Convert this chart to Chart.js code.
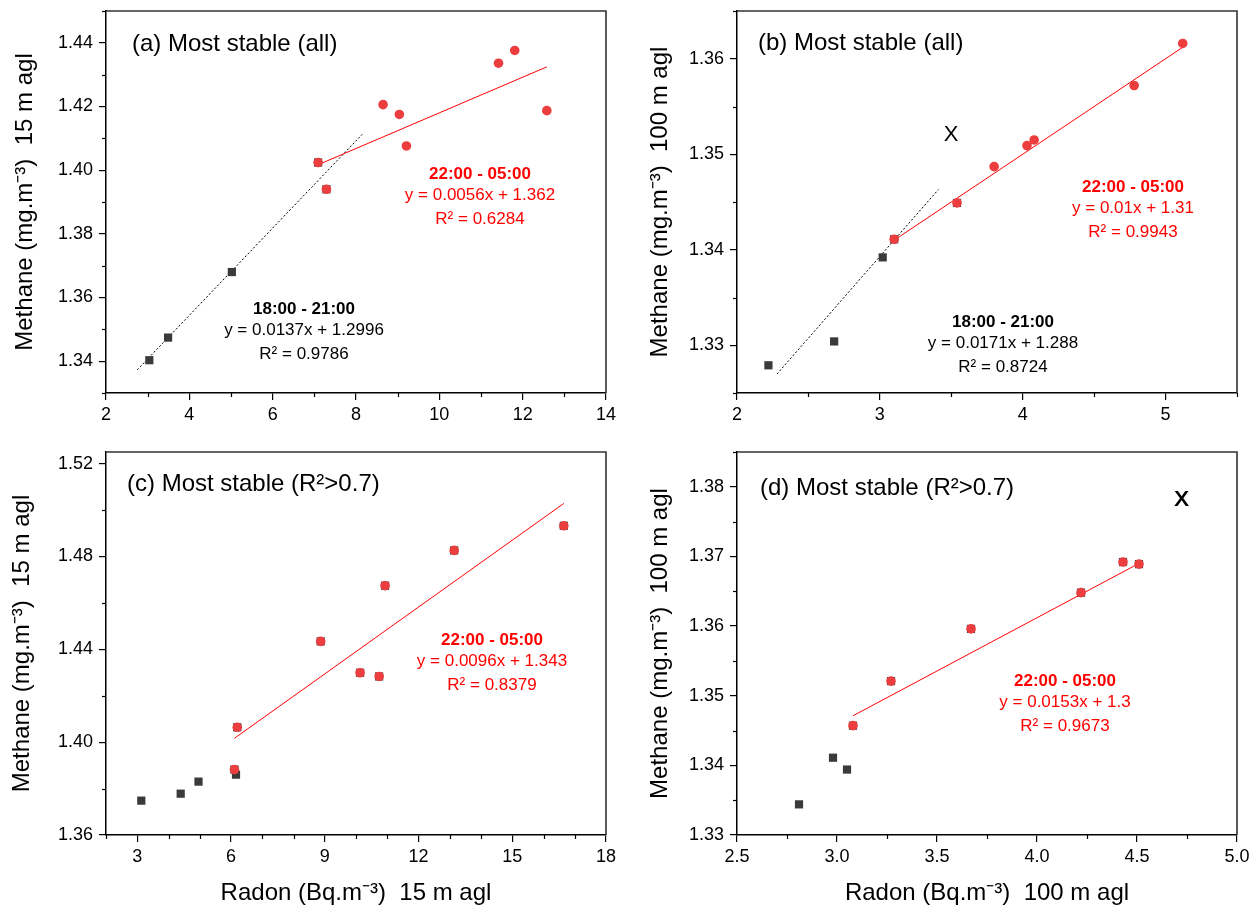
<!DOCTYPE html>
<html lang="en">
<head>
<meta charset="UTF-8">
<title>Methane vs Radon - most stable nights</title>
<script src="https://cdn.jsdelivr.net/npm/chart.js@4.4.0/dist/chart.umd.min.js"></script>
<style>
  html, body { margin: 0; padding: 0; background: #fff; }
  #page { position: relative; width: 1253px; height: 905px; overflow: hidden; }
  #page canvas { position: absolute; }
</style>
</head>
<body>
<div id="page">
  <canvas id="chartA" width="626" height="440" style="left:0;top:0"></canvas>
  <canvas id="chartB" width="627" height="440" style="left:626px;top:0"></canvas>
  <canvas id="chartC" width="626" height="465" style="left:0;top:440px"></canvas>
  <canvas id="chartD" width="627" height="465" style="left:626px;top:440px"></canvas>
</div>
<script>
// ---- (a) 15 m, all nights ----
const aEveX = [3.04, 3.49, 5.02, 7.09, 7.29];
const aEveY = [1.3403, 1.3474, 1.3680, 1.4024, 1.3940];
const aNightX = [7.09, 7.29, 8.65, 9.04, 9.21, 11.42, 11.81, 12.58];
const aNightY = [1.4024, 1.3940, 1.4206, 1.4175, 1.4076, 1.4336, 1.4376, 1.4187];
const aEveFit = { slope: 0.0137, intercept: 1.2996, r2: 0.9786, from: 2.75, to: 8.15 };
const aNightFit = { slope: 0.0056, intercept: 1.362, r2: 0.6284, from: 7.09, to: 12.58 };
const aXTicks = [2, 4, 6, 8, 10, 12, 14];
const aYTicks = [1.34, 1.36, 1.38, 1.40, 1.42, 1.44];

// ---- (b) 100 m, all nights ----
const bEveX = [2.22, 2.68, 3.02, 3.10, 3.54];
const bEveY = [1.3279, 1.3304, 1.3392, 1.3411, 1.3449];
const bNightX = [3.10, 3.54, 3.80, 4.03, 4.08, 4.78, 5.12];
const bNightY = [1.3411, 1.3449, 1.3487, 1.3509, 1.3515, 1.3572, 1.3616];
const bEveFit = { slope: 0.0171, intercept: 1.288, r2: 0.8724, from: 2.28, to: 3.41 };
const bNightFit = { slope: 0.01, intercept: 1.31, r2: 0.9943, from: 3.10, to: 5.12 };
const bXTicks = [2, 3, 4, 5];
const bYTicks = [1.33, 1.34, 1.35, 1.36];

// ---- (c) 15 m, nights with R2 > 0.7 ----
const cEveX = [3.13, 4.39, 4.96, 6.16, 6.11, 6.20, 8.87, 10.13, 10.74, 10.93, 13.14, 16.65];
const cEveY = [1.3748, 1.3778, 1.3830, 1.3860, 1.3882, 1.4064, 1.4434, 1.4299, 1.4283, 1.4674, 1.4826, 1.4932];
const cNightX = [6.11, 6.20, 8.87, 10.13, 10.74, 10.93, 13.14, 16.65];
const cNightY = [1.3882, 1.4064, 1.4434, 1.4299, 1.4283, 1.4674, 1.4826, 1.4932];
const cNightFit = { slope: 0.0096, intercept: 1.343, r2: 0.8379, from: 6.11, to: 16.65 };
const cXTicks = [3, 6, 9, 12, 15, 18];
const cYTicks = [1.36, 1.40, 1.44, 1.48, 1.52];

// ---- (d) 100 m, nights with R2 > 0.7 ----
const dEveX = [2.81, 2.98, 3.05, 3.08, 3.27, 3.67, 4.22, 4.43, 4.51];
const dEveY = [1.3344, 1.3411, 1.3394, 1.3457, 1.3521, 1.3596, 1.3648, 1.3692, 1.3689];
const dNightX = [3.08, 3.27, 3.67, 4.22, 4.43, 4.51];
const dNightY = [1.3457, 1.3521, 1.3596, 1.3648, 1.3692, 1.3689];
const dNightFit = { slope: 0.0153, intercept: 1.3, r2: 0.9673, from: 3.08, to: 4.50 };
const dXTicks = [2.5, 3.0, 3.5, 4.0, 4.5, 5.0];
const dYTicks = [1.33, 1.34, 1.35, 1.36, 1.37, 1.38];

const RED = '#ff0000';
const RED_DOT = '#ec3e3e';
const DARK = '#3a3a3a';
const FONT = '"Liberation Sans", Arial, Helvetica, sans-serif';
Chart.defaults.font.family = FONT;
Chart.defaults.color = '#000';

function pairs(xs, ys) {
  return xs.map((x, i) => ({ x, y: ys[i] }));
}

function fitPoints(fit) {
  return [fit.from, fit.to].map(x => ({ x, y: fit.slope * x + fit.intercept }));
}

function eqText(fit) {
  return 'y = ' + fit.slope + 'x + ' + fit.intercept;
}

function r2Text(fit) {
  return 'R\u00B2 = ' + fit.r2;
}

// the plot box is fixed by layout.padding alone, so drop the label overhang
function noOverhang(s) {
  s.paddingTop = 0;
  s.paddingBottom = 0;
  s.paddingLeft = 0;
  s.paddingRight = 0;
}

// minor ticks and the top/right frame lines
const framePlugin = {
  id: 'frame',
  afterDraw(chart, args, opts) {
    const { ctx, chartArea: a, scales } = chart;
    ctx.save();
    ctx.strokeStyle = '#000';
    ctx.lineWidth = 1.2;
    const drawMinor = (scale, step, majors, horizontal) => {
      const n = Math.round((scale.max - scale.min) / step);
      for (let i = 0; i <= n; i++) {
        const v = scale.min + i * step;
        if (majors.some(m => Math.abs(m - v) < step / 10)) continue;
        const p = Math.round(scale.getPixelForValue(v)) + 0.5;
        ctx.beginPath();
        if (horizontal) {
          ctx.moveTo(p, a.bottom);
          ctx.lineTo(p, a.bottom + 4);
        } else {
          ctx.moveTo(a.left - 4, p);
          ctx.lineTo(a.left, p);
        }
        ctx.stroke();
      }
    };
    drawMinor(scales.x, opts.xMinor, opts.xTicks, true);
    drawMinor(scales.y, opts.yMinor, opts.yTicks, false);

    ctx.strokeStyle = '#333';
    ctx.lineWidth = 1.6;
    ctx.beginPath();
    ctx.moveTo(a.left, a.top);
    ctx.lineTo(a.right, a.top);
    ctx.lineTo(a.right, a.bottom);
    ctx.stroke();
    ctx.restore();
  }
};

// text notes placed relative to the plot area
const notesPlugin = {
  id: 'notes',
  afterDraw(chart, args, opts) {
    const { ctx, chartArea: a } = chart;
    ctx.save();
    ctx.textBaseline = 'middle';
    (opts.items || []).forEach(n => {
      ctx.font = (n.bold ? 'bold ' : '') + (n.size || 17) + 'px ' + FONT;
      ctx.fillStyle = n.color || '#000';
      ctx.textAlign = n.align || 'center';
      ctx.fillText(n.text, a.left + n.dx, a.top + n.dy);
    });
    ctx.restore();
  }
};

function fitNotes(label, fit, dx, dy, color) {
  return [
    { text: label, dx, dy, color, bold: true },
    { text: eqText(fit), dx, dy: dy + 21, color },
    { text: r2Text(fit), dx, dy: dy + 45, color }
  ];
}

function buildChart(id, p) {
  const datasets = [
    {
      data: pairs(p.nightX, p.nightY), order: 1,
      pointStyle: 'circle', pointRadius: 4.8, pointHoverRadius: 4.8,
      backgroundColor: RED_DOT, borderColor: RED_DOT, borderWidth: 0
    },
    {
      data: fitPoints(p.nightFit), order: 2, showLine: true,
      borderColor: RED, borderWidth: 1, pointRadius: 0
    },
    {
      data: pairs(p.eveX, p.eveY), order: 3,
      pointStyle: 'rect', pointRadius: 5.8, pointHoverRadius: 5.8,
      backgroundColor: DARK, borderColor: DARK, borderWidth: 0
    }
  ];
  if (p.eveFit) {
    datasets.push({
      data: fitPoints(p.eveFit), order: 4, showLine: true,
      borderColor: '#000', borderWidth: 1, borderDash: [2, 2], pointRadius: 0
    });
  }

  const tickFont = { size: 18, family: FONT };
  const titleFont = { size: 24, family: FONT, lineHeight: 1 };

  return new Chart(document.getElementById(id), {
    type: 'scatter',
    data: { datasets },
    options: {
      responsive: false,
      animation: false,
      events: [],
      layout: { padding: { top: p.padTop, right: p.padRight, left: 0, bottom: 0 } },
      plugins: {
        legend: { display: false },
        tooltip: { enabled: false },
        frame: { xMinor: p.xMinor, yMinor: p.yMinor, xTicks: p.xTicks, yTicks: p.yTicks },
        notes: { items: p.notes }
      },
      scales: {
        x: {
          type: 'linear', min: p.xMin, max: p.xMax,
          afterBuildTicks: s => { s.ticks = p.xTicks.map(v => ({ value: v })); },
          afterFit: s => { s.height = p.xHeight; noOverhang(s); },
          ticks: {
            autoSkip: false, maxRotation: 0, padding: 4, font: tickFont, color: '#000',
            callback: v => v.toFixed(p.xDec)
          },
          grid: { drawOnChartArea: false, tickLength: 7, color: '#000', lineWidth: 1.2 },
          border: { color: '#000', width: 1.5 },
          title: {
            display: !!p.xTitle, text: p.xTitle, font: titleFont, color: '#000',
            padding: { top: 0, bottom: 0 }
          }
        },
        y: {
          type: 'linear', min: p.yMin, max: p.yMax,
          afterBuildTicks: s => { s.ticks = p.yTicks.map(v => ({ value: v })); },
          afterFit: s => { s.width = p.yWidth; noOverhang(s); },
          ticks: {
            autoSkip: false, padding: 6, font: tickFont, color: '#000',
            callback: v => v.toFixed(2)
          },
          grid: { drawOnChartArea: false, tickLength: 7, color: '#000', lineWidth: 1.2 },
          border: { color: '#000', width: 1.5 },
          title: {
            display: true, text: p.yTitle, font: titleFont, color: '#000',
            padding: { top: p.yTitlePad, bottom: 0 }
          }
        }
      }
    },
    plugins: [framePlugin, notesPlugin]
  });
}

const Y15 = 'Methane (mg.m\u207B\u00B3)  15 m agl';
const Y100 = 'Methane (mg.m\u207B\u00B3)  100 m agl';
const EVE = '18:00 - 21:00';
const NIGHT = '22:00 - 05:00';

buildChart('chartA', {
  eveX: aEveX, eveY: aEveY, nightX: aNightX, nightY: aNightY,
  eveFit: aEveFit, nightFit: aNightFit,
  xMin: 2, xMax: 14, xTicks: aXTicks, xMinor: 1, xDec: 0,
  yMin: 1.33, yMax: 1.45, yTicks: aYTicks, yMinor: 0.01,
  padTop: 11, padRight: 20, xHeight: 47, yWidth: 106, yTitlePad: 13,
  yTitle: Y15,
  notes: [
    { text: '(a) Most stable (all)', dx: 26, dy: 33, size: 24, align: 'left' },
    ...fitNotes(NIGHT, aNightFit, 374, 163, RED),
    ...fitNotes(EVE, aEveFit, 198, 298, '#000')
  ]
});

buildChart('chartB', {
  eveX: bEveX, eveY: bEveY, nightX: bNightX, nightY: bNightY,
  eveFit: bEveFit, nightFit: bNightFit,
  xMin: 2, xMax: 5.5, xTicks: bXTicks, xMinor: 0.5, xDec: 0,
  yMin: 1.325, yMax: 1.365, yTicks: bYTicks, yMinor: 0.005,
  padTop: 11, padRight: 16, xHeight: 47, yWidth: 111, yTitlePad: 22,
  yTitle: Y100,
  notes: [
    { text: '(b) Most stable (all)', dx: 21, dy: 32, size: 24, align: 'left' },
    { text: 'X', dx: 214, dy: 124, size: 22 },
    ...fitNotes(NIGHT, bNightFit, 396, 176, RED),
    ...fitNotes(EVE, bEveFit, 266, 311, '#000')
  ]
});

buildChart('chartC', {
  eveX: cEveX, eveY: cEveY, nightX: cNightX, nightY: cNightY,
  nightFit: cNightFit,
  xMin: 2, xMax: 18, xTicks: cXTicks, xMinor: 1, xDec: 0,
  yMin: 1.36, yMax: 1.525, yTicks: cYTicks, yMinor: 0.02,
  padTop: 12, padRight: 20, xHeight: 70, yWidth: 106, yTitlePad: 10,
  yTitle: Y15, xTitle: 'Radon (Bq.m\u207B\u00B3)  15 m agl',
  notes: [
    { text: '(c) Most stable (R\u00B2>0.7)', dx: 21, dy: 32, size: 24, align: 'left' },
    ...fitNotes(NIGHT, cNightFit, 386, 188, RED)
  ]
});

buildChart('chartD', {
  eveX: dEveX, eveY: dEveY, nightX: dNightX, nightY: dNightY,
  nightFit: dNightFit,
  xMin: 2.5, xMax: 5.0, xTicks: dXTicks, xMinor: 0.25, xDec: 1,
  yMin: 1.33, yMax: 1.385, yTicks: dYTicks, yMinor: 0.005,
  padTop: 12, padRight: 16, xHeight: 70, yWidth: 111, yTitlePad: 22,
  yTitle: Y100, xTitle: 'Radon (Bq.m\u207B\u00B3)  100 m agl',
  notes: [
    { text: '(d) Most stable (R\u00B2>0.7)', dx: 23, dy: 36, size: 24, align: 'left' },
    { text: 'X', dx: 444, dy: 48, size: 22 },
    { text: 'X', dx: 445, dy: 48, size: 22 },
    ...fitNotes(NIGHT, dNightFit, 328, 229, RED)
  ]
});
</script>
</body>
</html>
